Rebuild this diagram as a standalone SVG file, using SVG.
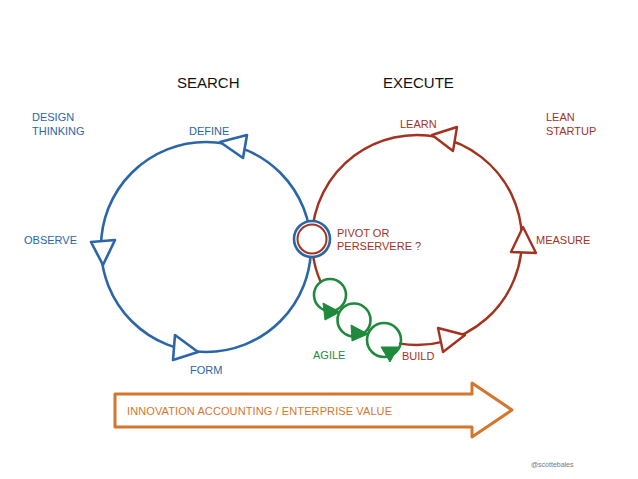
<svg xmlns="http://www.w3.org/2000/svg" width="638" height="479" viewBox="0 0 638 479">
<style>
text{font-family:"Liberation Sans",Arial,sans-serif;font-size:11px}
.hd{font-size:15px;fill:#111}
.b{fill:#2a66a8}.r{fill:#a3321f}.g{fill:#1f8a3c}.o{fill:#d6762c}
.bl{fill:none;stroke:#2a66a8;stroke-width:2.6;stroke-linecap:round;stroke-linejoin:round}
.rl{fill:none;stroke:#a3321f;stroke-width:2.4;stroke-linecap:round;stroke-linejoin:round}
.gl{fill:none;stroke:#1f8a3c;stroke-width:2.6}
.bt{fill:#fff;stroke:#2a66a8;stroke-width:2.6;stroke-linejoin:round}
.rt{fill:#fff;stroke:#a3321f;stroke-width:2.4;stroke-linejoin:round}
.gt{fill:#1f8a3c;stroke:#1f8a3c;stroke-width:1;stroke-linejoin:round}
</style>
<rect width="638" height="479" fill="#fff"/>
<g id="connectors">
<circle class="bl" cx="206" cy="247" r="105"/>
<path class="rl" d="M400,343.6 A105,105 0 1 0 320.6,281.8"/>
</g>
<g id="search"><text class="hd" x="177" y="88">SEARCH</text></g>
<g id="execute"><text class="hd" x="383" y="88">EXECUTE</text></g>
<g id="design-thinking"><text class="b" x="32" y="121">DESIGN</text><text class="b" x="32" y="135">THINKING</text></g>
<g id="lean-startup"><text class="r" x="546" y="121">LEAN</text><text class="r" x="546" y="135">STARTUP</text></g>
<g id="define"><polygon class="bt" points="220,142 247,135 243,158"/><text class="b" x="189" y="135">DEFINE</text></g>
<g id="observe"><polygon class="bt" points="91,242 115,240 103,265"/><text class="b" x="24" y="244">OBSERVE</text></g>
<g id="form"><polygon class="bt" points="175,335 173,360 198,352"/><text class="b" x="190" y="374">FORM</text></g>
<g id="learn"><polygon class="rt" points="432,135 457,127 453,151"/><text class="r" x="400" y="128">LEARN</text></g>
<g id="measure"><polygon class="rt" points="523,227 511,252 536,253"/><text class="r" x="536" y="244">MEASURE</text></g>
<g id="build"><polygon class="rt" points="438,328 443,352 465,335"/><text class="r" x="402" y="360">BUILD</text></g>
<g id="pivot">
<circle cx="312" cy="239" r="18" fill="#fff" stroke="#2a66a8" stroke-width="2.6"/>
<circle cx="312" cy="239" r="14.5" fill="#fff" stroke="#a3321f" stroke-width="2"/>
<text class="r" x="337" y="237">PIVOT OR</text><text class="r" x="337" y="250">PERSERVERE ?</text>
</g>
<g id="agile">
<circle class="gl" cx="330" cy="295" r="16"/>
<circle class="gl" cx="354" cy="320" r="16.5"/>
<circle class="gl" cx="384" cy="340" r="17"/>
<polygon class="gt" points="323,303 325,320 340,312"/>
<polygon class="gt" points="351,325 352,341 368,334"/>
<polygon class="gt" points="381,347 398,347 390,362"/>
<text class="g" x="313" y="359">AGILE</text>
</g>
<g id="innovation">
<polygon points="115,394 472,394 472,383 512,410 472,437 472,427 115,427" fill="#fff" stroke="#d6762c" stroke-width="3" stroke-linejoin="round"/>
<text class="o" x="127" y="415" textLength="265">INNOVATION ACCOUNTING / ENTERPRISE VALUE</text>
</g>
<g id="credit"><text x="531" y="467" style="font-size:7px;fill:#777">@scottebales</text></g>
</svg>
